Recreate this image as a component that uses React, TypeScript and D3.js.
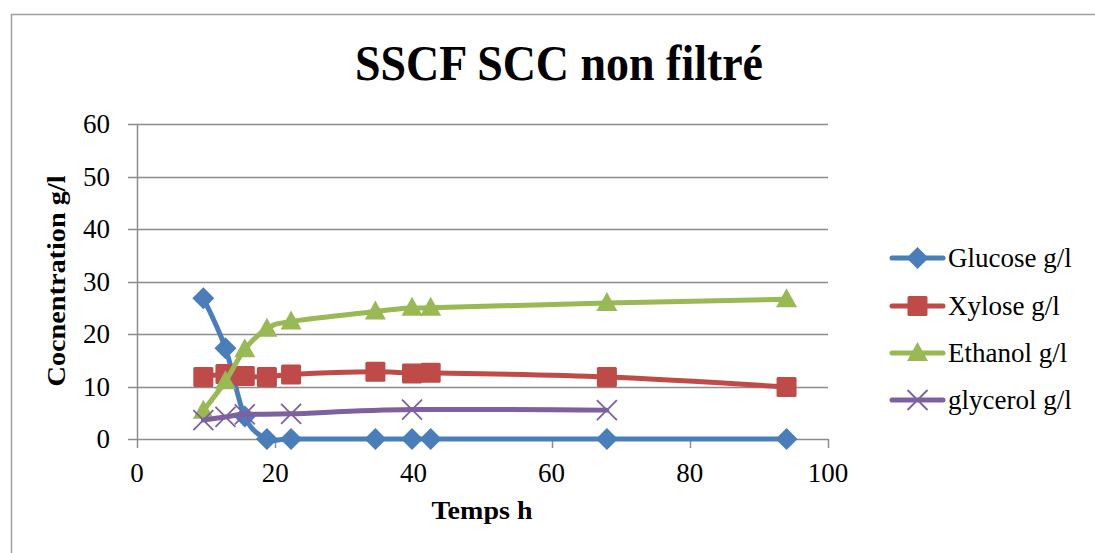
import React, { useEffect, useRef } from 'react'
import * as d3 from 'd3'

// temps (h) for each series
const glucoseT = [9.6, 12.8, 15.6, 18.8, 22.3, 34.5, 39.8, 42.5, 68, 94]
const glucose = [26.8, 17.3, 4.3, 0, 0, 0, 0, 0, 0, 0]
const xyloseT = [9.6, 12.8, 15.6, 18.8, 22.3, 34.5, 39.8, 42.5, 68, 94]
const xylose = [11.8, 12.4, 12.0, 11.8, 12.3, 12.8, 12.5, 12.6, 11.8, 9.9]
const ethanolT = [9.6, 12.8, 15.6, 18.8, 22.3, 34.5, 39.8, 42.5, 68, 94]
const ethanol = [5.4, 11.0, 17.1, 21.0, 22.4, 24.3, 25.0, 25.0, 25.9, 26.6]
const glycerolT = [9.6, 12.8, 15.6, 22.3, 39.8, 68]
const glycerol = [3.6, 4.2, 4.7, 4.8, 5.6, 5.5]

const xTicks = [0, 20, 40, 60, 80, 100]
const yTicks = [0, 10, 20, 30, 40, 50, 60]

const seriesNames = ['Glucose g/l', 'Xylose g/l', 'Ethanol g/l', 'glycerol g/l']
const seriesColors = ['#4a7ebb', '#be4b48', '#98b954', '#7d60a0']

const App: React.FC = () => {
  const ref = useRef<SVGSVGElement>(null)

  useEffect(() => {
    const W = 1095
    const H = 553
    const margin = { left: 137, right: 1095 - 828, top: 124, bottom: 553 - 439 }
    const font = "'Liberation Serif', 'DejaVu Serif', serif"

    const svg = d3.select(ref.current).attr('width', W).attr('height', H)
    svg.selectAll('*').remove()

    svg.append('rect').attr('width', W).attr('height', H).attr('fill', '#fff')
    svg
      .append('rect')
      .attr('x', 11.5)
      .attr('y', 14.5)
      .attr('width', W)
      .attr('height', H)
      .attr('fill', 'none')
      .attr('stroke', '#a0a0a0')
      .attr('stroke-width', 1.5)

    const x = d3.scaleLinear().domain([0, 100]).range([margin.left, W - margin.right])
    const y = d3.scaleLinear().domain([0, 60]).range([H - margin.bottom, margin.top])

    // gridlines
    svg
      .append('g')
      .selectAll('line')
      .data(yTicks)
      .enter()
      .append('line')
      .attr('x1', x(0) - 9)
      .attr('x2', x(100))
      .attr('y1', (d) => Math.round(y(d)) + 0.5)
      .attr('y2', (d) => Math.round(y(d)) + 0.5)
      .attr('stroke', '#8c8c8c')
      .attr('stroke-width', 1.5)

    // y axis line
    svg
      .append('line')
      .attr('x1', x(0) + 0.5)
      .attr('x2', x(0) + 0.5)
      .attr('y1', y(60))
      .attr('y2', y(0))
      .attr('stroke', '#8c8c8c')
      .attr('stroke-width', 1.5)

    // x ticks
    svg
      .append('g')
      .selectAll('line')
      .data(xTicks)
      .enter()
      .append('line')
      .attr('x1', (d) => Math.round(x(d)) + 0.5)
      .attr('x2', (d) => Math.round(x(d)) + 0.5)
      .attr('y1', y(0))
      .attr('y2', y(0) + 9)
      .attr('stroke', '#8c8c8c')
      .attr('stroke-width', 1.5)

    svg
      .append('g')
      .selectAll('text')
      .data(yTicks)
      .enter()
      .append('text')
      .attr('x', x(0) - 27)
      .attr('y', (d) => y(d) + 9)
      .attr('text-anchor', 'end')
      .attr('font-family', font)
      .attr('font-size', 27)
      .text((d) => d)

    svg
      .append('g')
      .selectAll('text')
      .data(xTicks)
      .enter()
      .append('text')
      .attr('x', (d) => x(d))
      .attr('y', y(0) + 43)
      .attr('text-anchor', 'middle')
      .attr('font-family', font)
      .attr('font-size', 27)
      .text((d) => d)

    // title & axis titles
    svg
      .append('text')
      .attr('x', 559)
      .attr('y', 80)
      .attr('text-anchor', 'middle')
      .attr('font-family', font)
      .attr('font-weight', 'bold')
      .attr('font-size', 50)
      .attr('textLength', 408)
      .attr('lengthAdjust', 'spacingAndGlyphs')
      .text('SSCF SCC non filtré')

    svg
      .append('text')
      .attr('x', 482)
      .attr('y', 519)
      .attr('text-anchor', 'middle')
      .attr('font-family', font)
      .attr('font-weight', 'bold')
      .attr('font-size', 26)
      .attr('textLength', 101)
      .attr('lengthAdjust', 'spacingAndGlyphs')
      .text('Temps h')

    svg
      .append('text')
      .attr('transform', 'translate(65,281) rotate(-90)')
      .attr('text-anchor', 'middle')
      .attr('font-family', font)
      .attr('font-weight', 'bold')
      .attr('font-size', 26)
      .attr('textLength', 211)
      .attr('lengthAdjust', 'spacingAndGlyphs')
      .text('Cocnentration g/l')

    const series = [
      { t: glucoseT, v: glucose },
      { t: xyloseT, v: xylose },
      { t: ethanolT, v: ethanol },
      { t: glycerolT, v: glycerol },
    ]

    const line = d3
      .line<[number, number]>()
      .x((d) => x(d[0]))
      .y((d) => y(d[1]))
      .curve(d3.curveCardinal.tension(0))

    const marker = (g: any, i: number, cx: number, cy: number) => {
      const c = seriesColors[i]
      if (i === 0) {
        g.append('path')
          .attr('d', `M${cx},${cy - 11}L${cx + 11},${cy}L${cx},${cy + 11}L${cx - 11},${cy}Z`)
          .attr('fill', c)
      } else if (i === 1) {
        g.append('rect')
          .attr('x', cx - 10)
          .attr('y', cy - 10)
          .attr('width', 20)
          .attr('height', 20)
          .attr('rx', 1.5)
          .attr('fill', c)
      } else if (i === 2) {
        g.append('path')
          .attr('d', `M${cx},${cy - 11}L${cx + 10.5},${cy + 8}L${cx - 10.5},${cy + 8}Z`)
          .attr('fill', c)
      } else {
        g.append('path')
          .attr('d', `M${cx - 10},${cy - 10}L${cx + 10},${cy + 10}M${cx + 10},${cy - 10}L${cx - 10},${cy + 10}`)
          .attr('stroke', c)
          .attr('stroke-width', 1.8)
          .attr('fill', 'none')
      }
    }

    series.forEach((s, i) => {
      const pts = s.t.map((t, k) => [t, s.v[k]] as [number, number])
      const g = svg.append('g')
      g.append('path')
        .attr('d', line(pts))
        .attr('fill', 'none')
        .attr('stroke', seriesColors[i])
        .attr('stroke-width', 5)
        .attr('stroke-linejoin', 'round')
        .attr('stroke-linecap', 'round')
      pts.forEach((p) => marker(g, i, x(p[0]), y(p[1])))
    })

    // legend
    const legendY = [258, 306, 353, 400]
    seriesNames.forEach((name, i) => {
      const g = svg.append('g')
      const ly = legendY[i]
      g.append('line')
        .attr('x1', 892)
        .attr('x2', 943)
        .attr('y1', ly)
        .attr('y2', ly)
        .attr('stroke', seriesColors[i])
        .attr('stroke-width', 5)
        .attr('stroke-linecap', 'round')
      marker(g, i, 917.5, ly)
      g.append('text')
        .attr('x', 948)
        .attr('y', ly + 9)
        .attr('font-family', font)
        .attr('font-size', 27)
        .text(name)
    })
  }, [])

  return (
    <svg ref={ref} style={{ position: 'absolute', left: 0, top: 0, display: 'block' }} />
  )
}

export default App
